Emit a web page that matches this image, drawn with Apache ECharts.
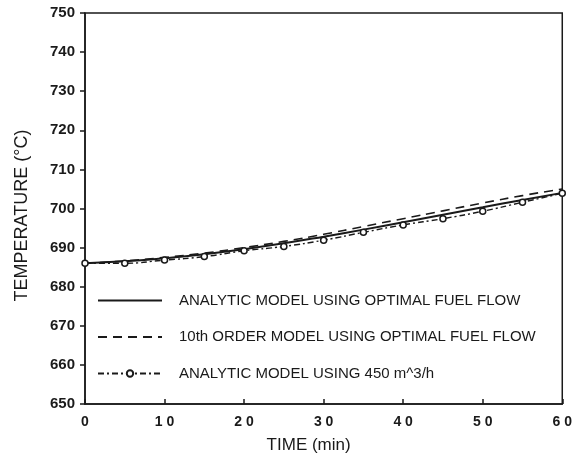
<!DOCTYPE html>
<html><head><meta charset="utf-8">
<script src="https://cdn.jsdelivr.net/npm/echarts@6/dist/echarts.min.js"></script>
<style>html,body{margin:0;padding:0;background:#fff}#c{width:575px;height:460px}</style>
</head><body><div id="c"></div>
<script>
const times = [0,5,10,15,20,25,30,35,40,45,50,55,60];
const analyticOptimal = [686.0,686.5,687.3,688.3,689.6,691.1,692.8,694.6,696.5,698.4,700.3,702.2,704.0];
const tenthOrder = [686.0,686.6,687.5,688.6,690.0,691.6,693.4,695.4,697.4,699.4,701.4,703.3,705.0];
const analytic450 = [686.0,686.0,686.8,687.7,689.2,690.3,691.9,693.9,695.8,697.4,699.3,701.6,703.9];
const seriesNames = ['ANALYTIC MODEL USING OPTIMAL FUEL FLOW','10th ORDER MODEL USING OPTIMAL FUEL FLOW','ANALYTIC MODEL USING 450 m^3/h'];
const xTickLabels = {0:'0',10:'1 0',20:'2 0',30:'3 0',40:'4 0',50:'5 0',60:'6 0'};
const yTickLabels = [650,660,670,680,690,700,710,720,730,740,750];

const pair = (v)=>times.map((t,i)=>[t,v[i]]);
const ink = '#1a1a1a';
const font = 'Liberation Sans';
const chart = echarts.init(document.getElementById('c'), null, {renderer:'canvas'});
chart.setOption({
  animation:false,
  backgroundColor:'#fff',
  grid:{left:85,right:10,top:13,bottom:56,show:true,borderColor:ink,borderWidth:1.5,backgroundColor:'transparent'},
  xAxis:{type:'value',min:0,max:60,interval:10,
    name:'TIME (min)',nameLocation:'middle',nameGap:33,
    nameTextStyle:{fontFamily:font,fontSize:17,color:ink,padding:[0,30,0,0]},
    axisLine:{show:true,lineStyle:{color:ink,width:1.5}},
    axisTick:{show:true,inside:true,length:5,lineStyle:{color:ink,width:1.5}},
    splitLine:{show:false},
    axisLabel:{margin:11,fontFamily:font,fontSize:14,fontWeight:'bold',color:ink,formatter:(v)=>xTickLabels[v]}
  },
  yAxis:{type:'value',min:650,max:750,interval:10,
    name:'TEMPERATURE (°C)',nameLocation:'middle',nameGap:54,
    nameTextStyle:{fontFamily:font,fontSize:18,color:ink,padding:[0,14,0,0]},
    axisLine:{show:true,lineStyle:{color:ink,width:1.5}},
    axisTick:{show:true,inside:false,length:5,lineStyle:{color:ink,width:1.5}},
    splitLine:{show:false},
    axisLabel:{margin:10,fontFamily:font,fontSize:15,fontWeight:'bold',color:ink,
      formatter:(v)=>yTickLabels.includes(v)?String(v):''}
  },
  legend:{orient:'vertical',left:92,top:288,itemWidth:64,itemHeight:8,itemGap:21.5,
    textStyle:{fontFamily:font,fontSize:15,color:ink,padding:[0,0,0,12]},
    data:[
      {name:seriesNames[0],itemStyle:{opacity:0}},
      {name:seriesNames[1],itemStyle:{opacity:0}},
      {name:seriesNames[2]}
    ]
  },
  series:[
    {name:seriesNames[0],type:'line',data:pair(analyticOptimal),symbol:'none',smooth:true,
      lineStyle:{color:ink,width:2,type:'solid'},itemStyle:{color:ink}},
    {name:seriesNames[1],type:'line',data:pair(tenthOrder),symbol:'none',smooth:true,
      lineStyle:{color:ink,width:1.6,type:[9,6]},itemStyle:{color:ink}},
    {name:seriesNames[2],type:'line',data:pair(analytic450),symbol:'circle',symbolSize:6,smooth:true,
      lineStyle:{color:ink,width:1.4,type:[6,3,2,3]},itemStyle:{color:'#fff',borderColor:ink,borderWidth:1.5}}
  ]
});
</script></body></html>
